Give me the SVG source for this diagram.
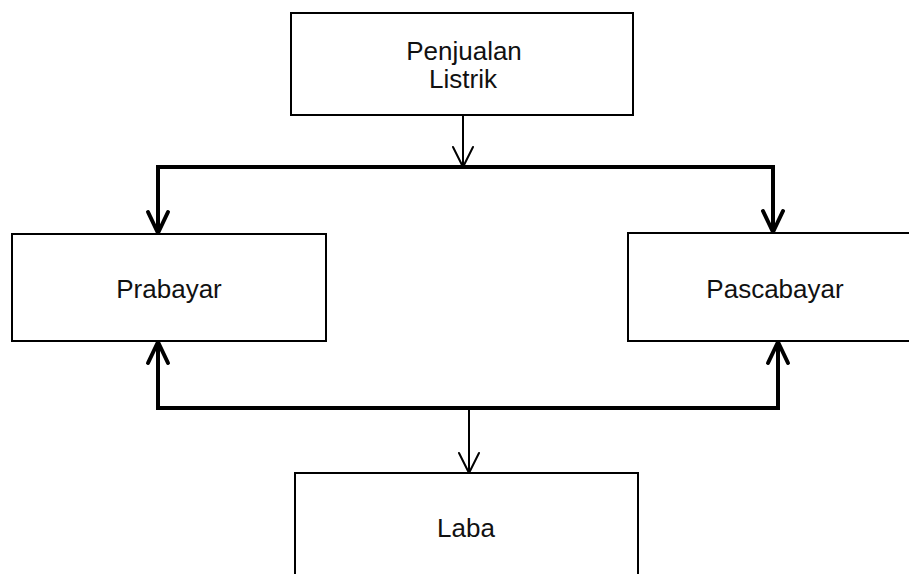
<svg xmlns="http://www.w3.org/2000/svg" width="909" height="574" viewBox="0 0 909 574">
<style>
.box{fill:#fff;stroke:#000;stroke-width:2}
.lbl{font-family:"Liberation Sans",Arial,sans-serif;font-size:26px;fill:#111;text-anchor:middle}
.thick{fill:none;stroke:#000;stroke-width:4;stroke-linejoin:miter}
.thin{fill:none;stroke:#000;stroke-width:2}
</style>
<defs>
<marker id="ahThick" markerUnits="userSpaceOnUse" orient="auto" markerWidth="30" markerHeight="30" refX="0" refY="0" overflow="visible">
<path d="M-21,-10 L0,0 L-21,10" fill="none" stroke="#000" stroke-width="4" stroke-linejoin="round" stroke-linecap="round"/>
</marker>
<marker id="ahThin" markerUnits="userSpaceOnUse" orient="auto" markerWidth="30" markerHeight="30" refX="0" refY="0" overflow="visible">
<path d="M-20,-10 L0,0 L-20,10" fill="none" stroke="#000" stroke-width="2" stroke-linejoin="round" stroke-linecap="round"/>
</marker>
</defs>
<g id="connectors">
<path class="thin" d="M463,115 L463,167" marker-end="url(#ahThin)"/>
<path class="thick" d="M463,167 L158,167 L158,233" marker-end="url(#ahThick)"/>
<path class="thick" d="M463,167 L773,167 L773,232" marker-end="url(#ahThick)"/>
<path class="thick" d="M469,408 L158,408 L158,342" marker-end="url(#ahThick)"/>
<path class="thick" d="M469,408 L778,408 L778,342" marker-end="url(#ahThick)"/>
<path class="thin" d="M469,408 L469,473" marker-end="url(#ahThin)"/>
</g>
<g id="penjualan">
<rect class="box" x="291" y="13" width="342" height="102"/>
<text class="lbl" x="464" y="60">Penjualan</text>
<text class="lbl" x="463" y="88">Listrik</text>
</g>
<g id="prabayar">
<rect class="box" x="12" y="234" width="314" height="107"/>
<text class="lbl" x="169" y="298">Prabayar</text>
</g>
<g id="pascabayar">
<rect class="box" x="628" y="233" width="290" height="108"/>
<text class="lbl" x="775" y="298">Pascabayar</text>
</g>
<g id="laba">
<rect class="box" x="295" y="473" width="343" height="120"/>
<text class="lbl" x="466" y="537">Laba</text>
</g>
</svg>
